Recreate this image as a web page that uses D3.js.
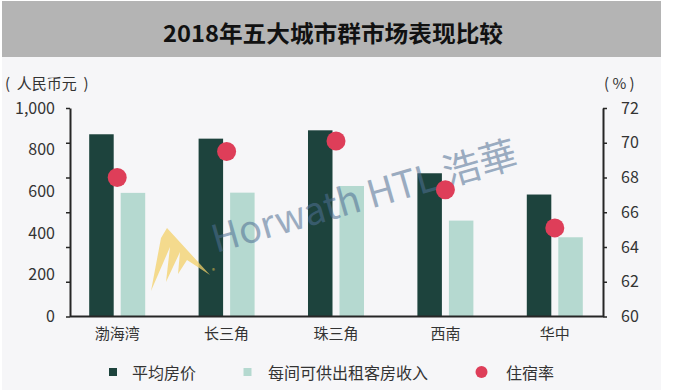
<!DOCTYPE html>
<html>
<head>
<meta charset="utf-8">
<script src="https://cdn.jsdelivr.net/npm/d3@7/dist/d3.min.js"></script>
<style>
  html, body { margin: 0; padding: 0; background: #ffffff; }
  svg { display: block; }
  text { font-family: "Noto Sans CJK SC", "Noto Sans", sans-serif; }
</style>
</head>
<body>
<svg id="chart" width="674" height="390"></svg>
<script>
// ---- data ----
const categories = ["渤海湾", "长三角", "珠三角", "西南", "华中"];
const avgRate    = [874, 853, 893, 687, 585];      // 平均房价 (人民币元)
const revpar     = [593, 594, 626, 460, 380];      // 每间可供出租客房收入 (人民币元)
const occupancy  = [68.0, 69.5, 70.1, 67.3, 65.1]; // 住宿率 (%)
const leftTicks  = [0, 200, 400, 600, 800, 1000];
const rightTicks = [60, 62, 64, 66, 68, 70, 72];
const seriesNames = ["平均房价", "每间可供出租客房收入", "住宿率"];
const title = "2018年五大城市群市场表现比较";

// ---- layout ----
const W = 674, H = 390;
const axL = 70, axR = 603, y0 = 316.5, y1 = 108;
const colDark = "#1d433d", colLight = "#b5d9d0", colDot = "#de3e59";
const txt = "#333333";

const svg = d3.select("#chart");

// backgrounds
svg.append("rect").attr("x", 2).attr("y", 1).attr("width", 659).attr("height", H - 1).attr("fill", "#f6f6f8");
svg.append("rect").attr("x", 2).attr("y", 1).attr("width", 659).attr("height", 56).attr("fill", "#b4b4b4");
svg.append("text").attr("x", 333).attr("y", 32).attr("text-anchor", "middle")
  .attr("dominant-baseline", "central").attr("font-size", 23).attr("font-weight", 700)
  .attr("fill", "#111").attr("textLength", 340).attr("lengthAdjust", "spacingAndGlyphs").text(title);

// scales
const yL = d3.scaleLinear().domain([0, 1000]).range([y0, y1]);
const yR = d3.scaleLinear().domain([60, 72]).range([y0, y1]);
const x = d3.scaleBand().domain(categories).range([62.5, 609.5]).paddingInner(0.488).paddingOuter(0.244);
const xs = d3.scaleBand().domain([0, 1]).range([0, x.bandwidth()]).paddingInner(0.222);

const rows = categories.map((c, i) => ({ c, vals: [avgRate[i], revpar[i]], occ: occupancy[i] }));

// bars
const g = svg.append("g");
rows.forEach(r => {
  r.vals.forEach((v, j) => {
    g.append("rect")
      .attr("x", x(r.c) + xs(j)).attr("width", xs.bandwidth())
      .attr("y", yL(v)).attr("height", yL(0) - yL(v))
      .attr("fill", j === 0 ? colDark : colLight);
  });
});

// watermark
const wm = svg.append("g").attr("pointer-events", "none");
wm.append("path")
  .attr("d", "M167,228 L210,275 L187,260 L178,274 L180,252 L166,282 L170,247 L151,291 L161,238 Z")
  .attr("fill", "#f3d06a").attr("opacity", 0.75);
wm.append("text").attr("x", 212).attr("y", 273).attr("font-size", 6).attr("fill", "#d8b84a").text("®");
wm.append("text")
  .attr("transform", "translate(216,253) rotate(-16)")
  .attr("font-size", 38).attr("font-weight", 400)
  .attr("font-family", "'Noto Sans', 'Noto Sans CJK TC', sans-serif")
  .attr("fill", "#4f6f93").attr("opacity", 0.55)
  .attr("textLength", 316).attr("lengthAdjust", "spacingAndGlyphs")
  .text("Horwath HTL 浩華");

// dots
svg.append("g").selectAll("circle").data(rows).join("circle")
  .attr("cx", d => x(d.c) + x.bandwidth() / 2)
  .attr("cy", d => yR(d.occ))
  .attr("r", 9.5).attr("fill", colDot);

// left axis: tick marks + labels
const gLt = svg.append("g").attr("transform", `translate(${axL},0)`)
  .call(d3.axisLeft(yR).tickValues(rightTicks).tickSize(4).tickSizeOuter(0).tickFormat(""));
const gLl = svg.append("g").attr("transform", `translate(${axL},0)`)
  .call(d3.axisLeft(yL).tickValues(leftTicks).tickSize(0).tickPadding(15).tickFormat(d3.format(",")));
gLl.select(".domain").remove();

// right axis
const gR = svg.append("g").attr("transform", `translate(${axR},0)`)
  .call(d3.axisRight(yR).tickValues(rightTicks).tickSize(4).tickSizeOuter(0).tickPadding(14));

// bottom axis
const gB = svg.append("g").attr("transform", `translate(0,${y0})`)
  .call(d3.axisBottom(x).tickSize(0).tickPadding(12));
gB.select(".domain").remove();
svg.append("line").attr("x1", axL).attr("x2", axR).attr("y1", y0).attr("y2", y0)
  .attr("stroke", "#262626").attr("stroke-width", 2);

[gLt, gR].forEach(a => {
  a.select(".domain").attr("stroke", "#262626").attr("stroke-width", 2);
  a.selectAll(".tick line").attr("stroke", "#262626").attr("stroke-width", 1.5);
});
[gLl, gR].forEach(a => a.selectAll("text").attr("font-size", 16).attr("fill", txt)
  .attr("font-family", "'Noto Sans', 'Noto Sans CJK SC', sans-serif"));
gB.selectAll("text").attr("font-size", 15).attr("fill", txt);

// unit labels
svg.append("text").attr("x", 5).attr("y", 82).attr("dominant-baseline", "central")
  .attr("font-size", 15).attr("fill", txt).style("white-space", "pre").text("(  人民币元  )");
svg.append("text").attr("x", 604).attr("y", 82).attr("dominant-baseline", "central")
  .attr("font-size", 15).attr("fill", txt).style("white-space", "pre").text("( % )");

// legend
const lg = svg.append("g").attr("transform", "translate(0,372)");
const legX = [113, 247.5, 481.5];
const textX = [132, 268, 506];
lg.append("rect").attr("x", legX[0] - 4).attr("y", -4).attr("width", 8).attr("height", 8).attr("fill", colDark);
lg.append("rect").attr("x", legX[1] - 4).attr("y", -4).attr("width", 8).attr("height", 8).attr("fill", colLight);
lg.append("circle").attr("cx", legX[2]).attr("cy", 0).attr("r", 6).attr("fill", colDot);
seriesNames.forEach((s, i) => {
  lg.append("text").attr("x", textX[i]).attr("y", 0).attr("dominant-baseline", "central")
    .attr("font-size", 16).attr("fill", txt).text(s);
});
</script>
</body>
</html>
